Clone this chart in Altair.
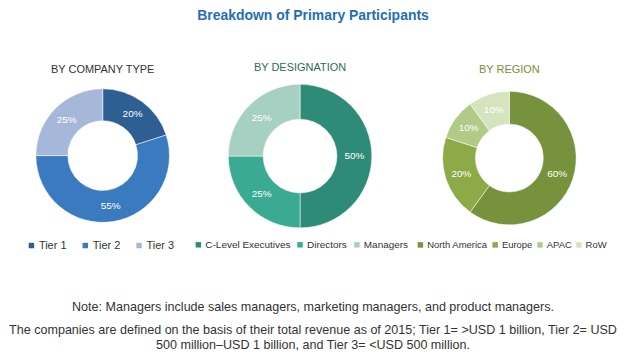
import altair as alt
import pandas as pd

# ---- data ----
company_types = ["Tier 1", "Tier 2", "Tier 3"]
company_shares = [20, 55, 25]
company_colors = ["#2D5F92", "#3A7BBF", "#A6B8D9"]

designations = ["C-Level Executives", "Directors", "Managers"]
designation_shares = [50, 25, 25]
designation_colors = ["#2E8B77", "#3BAA92", "#A5D0C2"]

regions = ["North America", "Europe", "APAC", "RoW"]
region_shares = [60, 20, 10, 10]
region_colors = ["#76923C", "#8CAA48", "#B0CB86", "#D6E3BF"]

main_title = "Breakdown of Primary Participants"
panel_titles = ["BY COMPANY TYPE", "BY DESIGNATION", "BY REGION"]
panel_title_colors = ["#333333", "#2F6B5E", "#7D8C3A"]
note_lines = [
    "Note: Managers include sales managers, marketing managers, and product managers.",
    "The companies are defined on the basis of their total revenue as of 2015; Tier 1= >USD 1 billion, Tier 2= USD\n500 million\u2013USD 1 billion, and Tier 3= <USD 500 million.",
]

FONT = "Liberation Sans, Arial, sans-serif"


def donut(cats, vals, colors, title, tcolor, w, h, outer, inner,
          col_pad, legend_fs, legend_x, legend_y):
    df = pd.DataFrame({"cat": cats, "val": vals, "idx": list(range(len(cats)))})
    df["label"] = [f"{v}%" for v in vals]
    base = alt.Chart(df).encode(
        theta=alt.Theta("val:Q", stack=True),
        order=alt.Order("idx:Q"),
    )
    arcs = base.mark_arc(outerRadius=outer, innerRadius=inner,
                         stroke="white", strokeWidth=0.5).encode(
        color=alt.Color(
            "cat:N",
            scale=alt.Scale(domain=cats, range=colors),
            sort=cats,
            legend=alt.Legend(
                orient="none", legendX=legend_x, legendY=legend_y,
                direction="horizontal", title=None,
                symbolType="square", symbolSize=30, symbolStrokeWidth=0,
                labelFontSize=legend_fs, labelColor="#333333", labelFont=FONT,
                labelOffset=2, columnPadding=col_pad, padding=0,
            ),
        )
    )
    labels = base.mark_text(radius=(outer + inner) / 2, color="white",
                            fontSize=10, font=FONT).encode(text="label:N")
    return (arcs + labels).properties(
        width=w, height=h,
        title=alt.TitleParams(title, color=tcolor, fontSize=11, font=FONT,
                              fontWeight="normal", anchor="middle", offset=10),
    )


c1 = donut(company_types, company_shares, company_colors, panel_titles[0],
           panel_title_colors[0], 188, 141, 67, 35, 13, 11, 17, 155)
c2 = donut(designations, designation_shares, designation_colors, panel_titles[1],
           panel_title_colors[1], 208, 142, 72, 37, 4, 10, -3, 155)
c3 = donut(regions, region_shares, region_colors, panel_titles[2],
           panel_title_colors[2], 212, 146, 67, 34, 2, 9.5, 12, 155)

row = alt.hconcat(c1, c2, c3, spacing=0, bounds="flush").resolve_scale(color="independent")

notes_df = pd.DataFrame({"text": note_lines, "pos": [0, 1]})
notes = alt.Chart(notes_df).mark_text(
    baseline="top", align="center", fontSize=12.6, font=FONT, color="#333333",
    lineBreak="\n", lineHeight=15,
).encode(
    text="text:N",
    x=alt.value(305),
    y=alt.Y("pos:O", axis=None, scale=alt.Scale(type="point", range=[0, 24], padding=0)),
).properties(width=604, height=45)

chart = alt.vconcat(row, notes, spacing=50).properties(
    title=alt.TitleParams(main_title, color="#1F6FB7", fontSize=14, font=FONT,
                          fontWeight="bold", anchor="middle", offset=40),
    padding=0,
).configure_view(stroke=None)

chart.save("out.html", embed_options={"renderer": "svg", "actions": False})
